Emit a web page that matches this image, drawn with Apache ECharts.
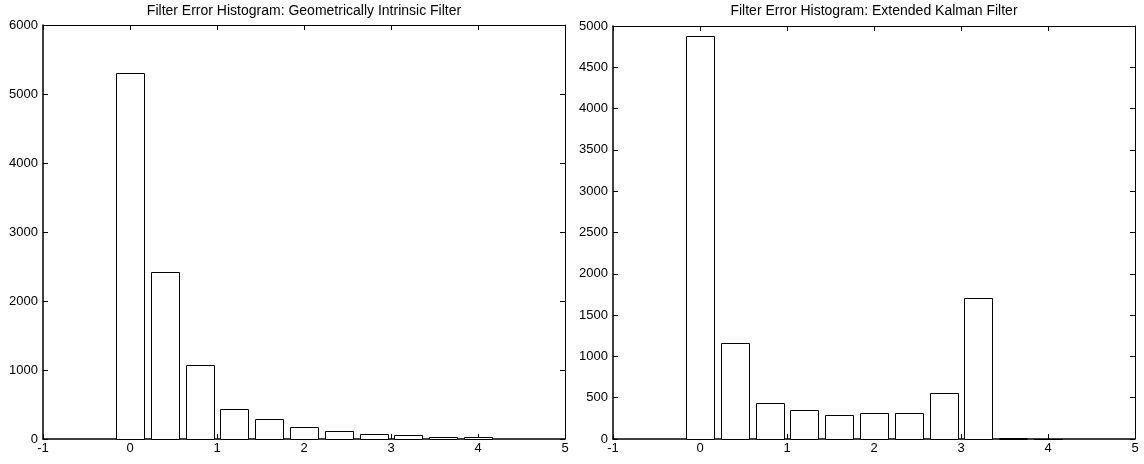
<!DOCTYPE html>
<html>
<head>
<meta charset="utf-8">
<script src="https://cdn.jsdelivr.net/npm/echarts@6/dist/echarts.min.js"></script>
<style>
html,body{margin:0;padding:0;background:#fff;}
#chart{width:1144px;height:464px;}
</style>
</head>
<body>
<div id="chart"></div>
<script>
// ---- data ----
const binCenters = [0, 0.4, 0.8, 1.2, 1.6, 2.0, 2.4, 2.8, 3.2, 3.6, 4.0];
const gifCounts  = [5300, 2414, 1071, 434, 285, 180, 111, 78, 54, 33, 30];
const ekfCounts  = [4877, 1161, 431, 354, 286, 318, 310, 552, 1702, 10, 3];
const xTicks = [-1, 0, 1, 2, 3, 4, 5];
const leftYTicks = [0, 1000, 2000, 3000, 4000, 5000, 6000];
const rightYTicks = [0, 500, 1000, 1500, 2000, 2500, 3000, 3500, 4000, 4500, 5000];
const titles = ['Filter Error Histogram: Geometrically Intrinsic Filter',
                'Filter Error Histogram: Extended Kalman Filter'];

const BAR_HALF = 0.16; // half of bar width (80% of 0.4 bin)
const FONT = 'Liberation Sans, Arial, sans-serif';

function pairs(xs, ys){ return xs.map((x,i)=>[x, ys[i]]); }

function renderBar(params, api){
  const c = api.value(0), v = api.value(1);
  const p0 = api.coord([c - BAR_HALF, v]);
  const p1 = api.coord([c + BAR_HALF, 0]);
  return {
    type:'rect',
    shape:{x:Math.round(p0[0])+0.5, y:Math.round(p0[1])+0.5,
           width:Math.round(p1[0]-p0[0]), height:Math.round(p1[1]-p0[1])},
    style:{fill:'#fff', stroke:'#000', lineWidth:1}
  };
}

const plain = v => String(v);

function xAxes(gridIndex){
  const base = {
    type:'value', gridIndex, min:xTicks[0], max:xTicks[xTicks.length-1], interval:1,
    splitLine:{show:false},
    axisTick:{show:true, inside:true, length:5, lineStyle:{color:'#000', width:1}}
  };
  return [
    Object.assign({}, base, {position:'bottom',
      axisLine:{show:true, onZero:false, lineStyle:{color:'#000', width:1.5}},
      axisLabel:{show:true, color:'#000', fontSize:13, fontFamily:FONT, margin:3, formatter:plain}}),
    Object.assign({}, base, {position:'top',
      axisLine:{show:true, onZero:false, lineStyle:{color:'#000', width:1}},
      axisLabel:{show:false}})
  ];
}
function yAxes(gridIndex, ticks){
  const base = {
    type:'value', gridIndex, min:ticks[0], max:ticks[ticks.length-1], interval:ticks[1]-ticks[0],
    splitLine:{show:false},
    axisTick:{show:true, inside:true, length:5, lineStyle:{color:'#000', width:1}}
  };
  return [
    Object.assign({}, base, {position:'left',
      axisLine:{show:true, onZero:false, lineStyle:{color:'#000', width:1.5}},
      axisLabel:{show:true, color:'#000', fontSize:13, fontFamily:FONT, margin:5, formatter:plain}}),
    Object.assign({}, base, {position:'right',
      axisLine:{show:true, onZero:false, lineStyle:{color:'#000', width:1}},
      axisLabel:{show:false}})
  ];
}

const chart = echarts.init(document.getElementById('chart'), null, {renderer:'canvas'});
chart.setOption({
  animation:false,
  backgroundColor:'#fff',
  grid:[
    {left:43, top:25, width:522, height:414},
    {left:613, top:26, width:522, height:413}
  ],
  graphic:[
    {type:'text', x:304, y:4, style:{text:titles[0], align:'center', textAlign:'center', verticalAlign:'top', textVerticalAlign:'top', fontSize:14, fontFamily:FONT, fill:'#000'}},
    {type:'text', x:874, y:4, style:{text:titles[1], align:'center', textAlign:'center', verticalAlign:'top', textVerticalAlign:'top', fontSize:14, fontFamily:FONT, fill:'#000'}}
  ],
  xAxis:[...xAxes(0), ...xAxes(1)],
  yAxis:[...yAxes(0, leftYTicks), ...yAxes(1, rightYTicks)],
  series:[
    {type:'custom', name:'Geometrically Intrinsic Filter', xAxisIndex:0, yAxisIndex:0,
     renderItem:renderBar, data:pairs(binCenters, gifCounts), z:1},
    {type:'custom', name:'Extended Kalman Filter', xAxisIndex:2, yAxisIndex:2,
     renderItem:renderBar, data:pairs(binCenters, ekfCounts), z:1}
  ]
});
</script>
</body>
</html>
